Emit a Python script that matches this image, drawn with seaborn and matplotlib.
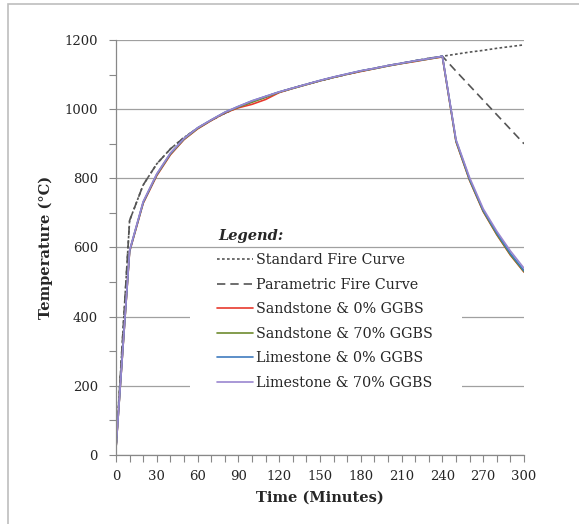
import numpy as np
import pandas as pd
import seaborn as sns
import matplotlib.pyplot as plt
from matplotlib.patches import Rectangle

sns.set_theme(style="white")
plt.rcParams['font.family'] = ['DejaVu Serif']

# time in minutes, readings every 10 min
time = list(range(0, 301, 10))

standard = [20, 678, 781, 842, 885, 918, 945, 968, 988, 1006, 1022, 1036, 1049, 1061,
            1072, 1082, 1092, 1101, 1110, 1118, 1126, 1133, 1140, 1147, 1153,
            1159, 1165, 1170, 1176, 1181, 1186]
parametric = [20, 678, 781, 842, 885, 918, 945, 968, 988, 1006, 1022, 1036, 1049, 1061,
              1072, 1082, 1092, 1101, 1110, 1118, 1126, 1133, 1140, 1147, 1153,
              1110, 1068, 1026, 984, 942, 900]
sand_0 = [20, 588, 728, 808, 868, 912, 943, 967, 989, 1004, 1014, 1028, 1048, 1060,
          1071, 1082, 1092, 1101, 1109, 1117, 1125, 1132, 1138, 1145, 1151,
          906, 794, 704, 637, 578, 529]
sand_70 = [20, 590, 730, 810, 870, 913, 944, 968, 990, 1006, 1020, 1034, 1049, 1060,
           1071, 1082, 1092, 1101, 1110, 1117, 1125, 1132, 1139, 1145, 1152,
           907, 795, 705, 638, 579, 530]
lime_0 = [20, 590, 731, 812, 872, 915, 946, 969, 991, 1008, 1024, 1037, 1050, 1061,
          1072, 1083, 1093, 1102, 1111, 1118, 1126, 1133, 1140, 1146, 1153,
          910, 798, 708, 642, 583, 533]
lime_70 = [20, 592, 733, 813, 873, 915, 946, 969, 991, 1008, 1024, 1037, 1050, 1061,
           1072, 1083, 1093, 1102, 1111, 1118, 1126, 1133, 1140, 1146, 1153,
           912, 802, 712, 647, 590, 540]

series = [
    ("Standard Fire Curve", standard, "#555555", (0, (1.6, 1.4))),
    ("Parametric Fire Curve", parametric, "#555555", (0, (5, 3))),
    ("Sandstone & 0% GGBS", sand_0, "#e8392e", "-"),
    ("Sandstone & 70% GGBS", sand_70, "#6e8b2f", "-"),
    ("Limestone & 0% GGBS", lime_0, "#3f7bbf", "-"),
    ("Limestone & 70% GGBS", lime_70, "#9a86cf", "-"),
]

fig = plt.figure(figsize=(5.79, 5.24), dpi=100)
ax = fig.add_axes([116 / 579, 1 - 455 / 524, 408 / 579, 415 / 524])

for name, vals, color, ls in series:
    sns.lineplot(x=time, y=vals, ax=ax, color=color, linestyle=ls, linewidth=1.2, label=name)

ax.set_xlim(0, 300)
ax.set_ylim(0, 1200)
ax.set_xticks(range(0, 301, 30))
ax.set_xticks(range(0, 301, 10), minor=True)
ax.set_yticks(range(0, 1201, 200))
ax.set_yticks(range(0, 1201, 100), minor=True)
ax.tick_params(axis='both', which='both', direction='out', length=5, width=0.8,
               color='#888888', labelsize=9.5, bottom=True, left=True)
ax.tick_params(axis='x', pad=6)
ax.tick_params(axis='y', pad=8)
ax.grid(axis='y', which='major', color='#a0a0a0', linewidth=0.9)
ax.grid(axis='x', visible=False)
ax.set_axisbelow(True)
for s in ['top', 'right']:
    ax.spines[s].set_visible(False)
for s in ['left', 'bottom']:
    ax.spines[s].set_color('#888888')
    ax.spines[s].set_linewidth(0.9)

ax.set_xlabel("Time (Minutes)", fontsize=10.5, fontweight='bold', labelpad=5)
ax.set_ylabel("Temperature (°C)", fontsize=10.5, fontweight='bold', labelpad=8)

# white box behind the legend (covers the gridlines)
ax.add_patch(Rectangle((74 / 408, (455 - 396) / 415), 272 / 408, 146 / 415,
                       transform=ax.transAxes, facecolor='white', edgecolor='none', zorder=1))
leg = ax.legend(loc='upper left', bbox_to_anchor=(101 / 408, (455 - 253) / 415),
                frameon=False, fontsize=10.3, handlelength=2.5, handletextpad=0.25,
                labelspacing=0.74, borderpad=0, borderaxespad=0)
ax.text(102 / 408, (455 - 236) / 415, "Legend:", transform=ax.transAxes,
        fontsize=10.5, fontweight='bold', fontstyle='italic', va='center', ha='left')

fig.add_artist(Rectangle((8 / 579, -0.1), 1.2, 1.1 - 4 / 524, transform=fig.transFigure,
                         fill=False, edgecolor='#bdbdbd', linewidth=1.2))

fig.savefig("out.png", dpi=100)
